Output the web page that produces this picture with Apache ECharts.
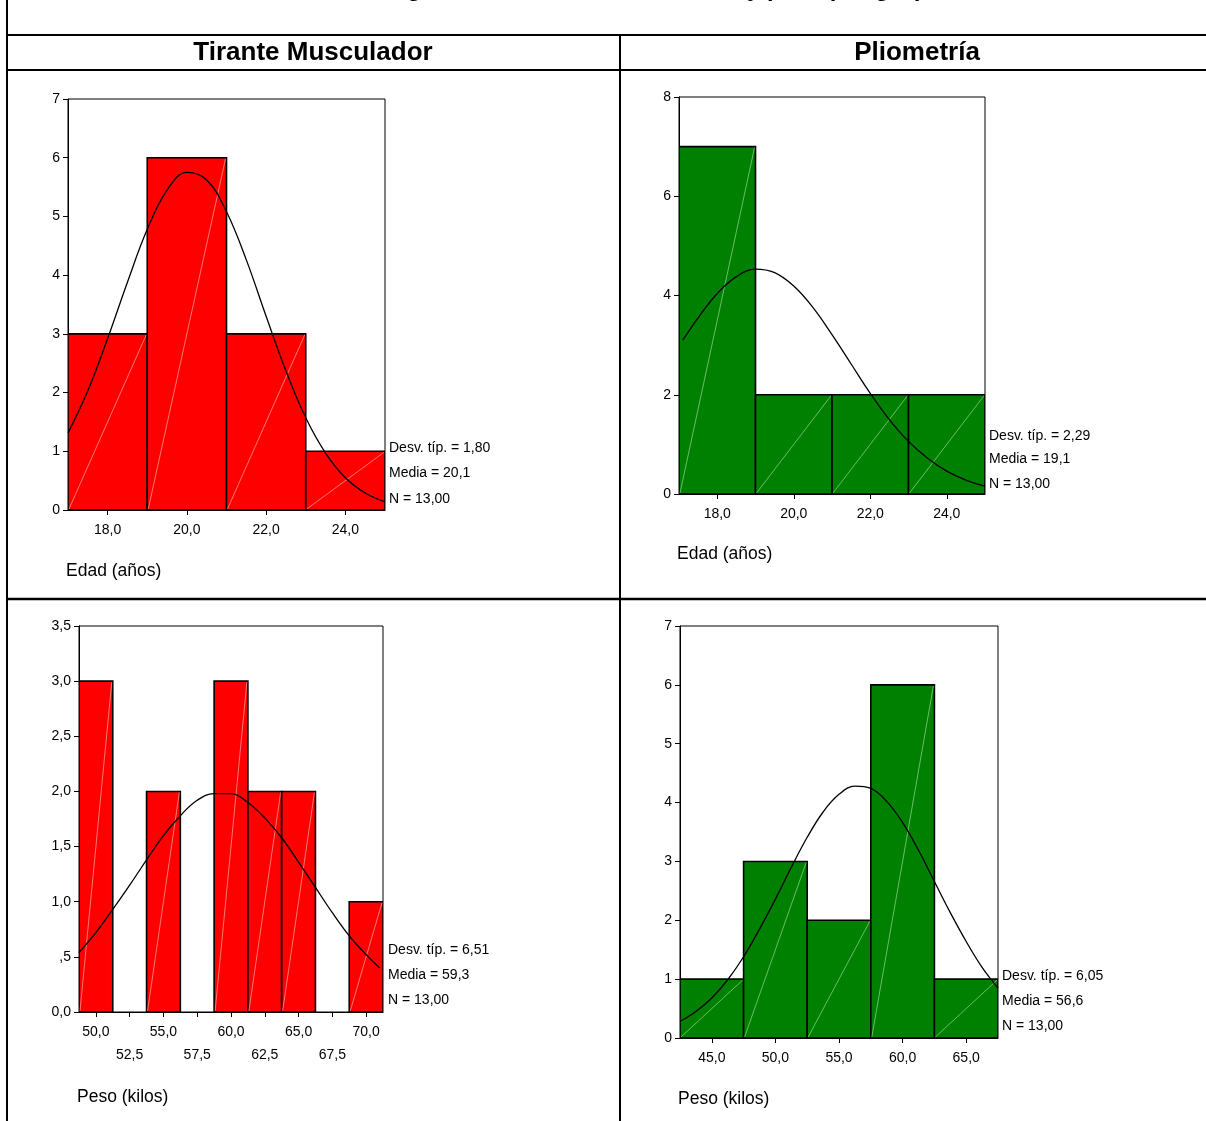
<!DOCTYPE html>
<html>
<head>
<meta charset="utf-8">
<script src="https://cdn.jsdelivr.net/npm/echarts@6/dist/echarts.min.js"></script>
<style>
html,body{margin:0;padding:0;background:#fff;}
#c{width:1206px;height:1121px;}
</style>
</head>
<body>
<div id="c"></div>
<script>
// ---------- DATA ----------
const pageTitle = 'Histogramas de las variables edad y peso por grupo';
const groupNames = ['Tirante Musculador', 'Pliometría'];
const varNames = ['Edad (años)', 'Edad (años)', 'Peso (kilos)', 'Peso (kilos)'];

// Tirante Musculador - Edad
const tmEdadLo = [17, 19, 21, 23];
const tmEdadHi = [19, 21, 23, 25];
const tmEdadN  = [3, 6, 3, 1];
const tmEdadCurveX = [17, 17.5, 18, 18.5, 19, 19.5, 20, 20.5, 21, 21.5, 22, 22.5, 23, 23.5, 24, 24.5, 25];
const tmEdadCurveY = [1.31, 2.03, 2.92, 3.88, 4.78, 5.45, 5.75, 5.62, 5.08, 4.26, 3.30, 2.37, 1.57, 0.97, 0.55, 0.29, 0.14];

// Pliometría - Edad
const plEdadLo = [17, 19, 21, 23];
const plEdadHi = [19, 21, 23, 25];
const plEdadN  = [7, 2, 2, 2];
const plEdadCurveX = [17.1, 17.5, 18, 18.5, 19, 19.5, 20, 20.5, 21, 21.5, 22, 22.5, 23, 23.5, 24, 24.5, 25];
const plEdadCurveY = [3.10, 3.55, 4.04, 4.38, 4.53, 4.46, 4.19, 3.76, 3.21, 2.62, 2.03, 1.50, 1.06, 0.72, 0.46, 0.28, 0.16];

// Tirante Musculador - Peso
const tmPesoLo = [48.75, 51.25, 53.75, 56.25, 58.75, 61.25, 63.75, 66.25, 68.75];
const tmPesoHi = [51.25, 53.75, 56.25, 58.75, 61.25, 63.75, 66.25, 68.75, 71.25];
const tmPesoN  = [3, 0, 2, 0, 3, 2, 2, 0, 1];
const tmPesoCurveX = [48.75, 50, 51.25, 52.5, 53.75, 55, 56.25, 57.5, 58.75, 60, 61.25, 62.5, 63.75, 65, 66.25, 67.5, 68.75, 70, 71];
const tmPesoCurveY = [0.54, 0.72, 0.93, 1.15, 1.38, 1.60, 1.78, 1.92, 1.98, 1.98, 1.90, 1.76, 1.58, 1.36, 1.13, 0.90, 0.69, 0.52, 0.40];

// Pliometría - Peso
const plPesoLo = [42.5, 47.5, 52.5, 57.5, 62.5];
const plPesoHi = [47.5, 52.5, 57.5, 62.5, 67.5];
const plPesoN  = [1, 3, 2, 6, 1];
const plPesoCurveX = [42.5, 43.75, 45, 46.25, 47.5, 48.75, 50, 51.25, 52.5, 53.75, 55, 56.25, 57.5, 58.75, 60, 61.25, 62.5, 63.75, 65, 66.25, 67.5];
const plPesoCurveY = [0.28, 0.45, 0.68, 0.99, 1.38, 1.85, 2.36, 2.90, 3.41, 3.84, 4.14, 4.28, 4.24, 4.02, 3.66, 3.19, 2.66, 2.13, 1.64, 1.20, 0.85];

// Axis ranges, ticks and labels
const xMin = [17, 17, 48.75, 42.5];
const xMax = [25, 25, 71.25, 67.5];
const xTicks1 = [18, 20, 22, 24];
const xLabels1 = ['18,0', '20,0', '22,0', '24,0'];
const xTicks2 = [18, 20, 22, 24];
const xLabels2 = ['18,0', '20,0', '22,0', '24,0'];
const xTicks3 = [50, 52.5, 55, 57.5, 60, 62.5, 65, 67.5, 70];
const xLabels3 = ['50,0', '\n52,5', '55,0', '\n57,5', '60,0', '\n62,5', '65,0', '\n67,5', '70,0'];
const xTicks4 = [45, 50, 55, 60, 65];
const xLabels4 = ['45,0', '50,0', '55,0', '60,0', '65,0'];

const yMax = [7, 8, 3.5, 7];
const yTicks1 = [0, 1, 2, 3, 4, 5, 6, 7];
const yLabels1 = ['0', '1', '2', '3', '4', '5', '6', '7'];
const yTicks2 = [0, 2, 4, 6, 8];
const yLabels2 = ['0', '2', '4', '6', '8'];
const yTicks3 = [0, 0.5, 1, 1.5, 2, 2.5, 3, 3.5];
const yLabels3 = ['0,0', ',5', '1,0', '1,5', '2,0', '2,5', '3,0', '3,5'];
const yTicks4 = [0, 1, 2, 3, 4, 5, 6, 7];
const yLabels4 = ['0', '1', '2', '3', '4', '5', '6', '7'];

const statSd    = ['1,80', '2,29', '6,51', '6,05'];
const statMedia = ['20,1', '19,1', '59,3', '56,6'];
const statN     = ['13,00', '13,00', '13,00', '13,00'];

// ---------- LAYOUT ----------
const FONT = '"Liberation Sans", Arial, sans-serif';
const RED = '#ff0000';
const GREEN = '#008000';
const grids = [
  {left: 68, top: 99, width: 317, height: 411},
  {left: 679, top: 97, width: 306, height: 397},
  {left: 79, top: 626, width: 304, height: 386},
  {left: 680, top: 626, width: 318, height: 412}
];
const barColors = [RED, GREEN, RED, GREEN];
const diagColors = ['rgba(255,200,200,0.85)', 'rgba(190,235,190,0.8)', 'rgba(255,200,200,0.85)', 'rgba(190,235,190,0.8)'];
const statPos = [
  {x: 389, y: [448, 473, 499]},
  {x: 989, y: [436, 459, 484]},
  {x: 388, y: [950, 975, 1000]},
  {x: 1002, y: [976, 1001, 1026]}
];
const namePos = [
  {x: 66, y: 571},
  {x: 677, y: 554},
  {x: 77, y: 1097},
  {x: 678, y: 1099}
];

const binsLo = [tmEdadLo, plEdadLo, tmPesoLo, plPesoLo];
const binsHi = [tmEdadHi, plEdadHi, tmPesoHi, plPesoHi];
const binsN = [tmEdadN, plEdadN, tmPesoN, plPesoN];
const curvesX = [tmEdadCurveX, plEdadCurveX, tmPesoCurveX, plPesoCurveX];
const curvesY = [tmEdadCurveY, plEdadCurveY, tmPesoCurveY, plPesoCurveY];
const xTicks = [xTicks1, xTicks2, xTicks3, xTicks4];
const xLabels = [xLabels1, xLabels2, xLabels3, xLabels4];
const yTicks = [yTicks1, yTicks2, yTicks3, yTicks4];
const yLabels = [yLabels1, yLabels2, yLabels3, yLabels4];

const chart = echarts.init(document.getElementById('c'), null, {renderer: 'canvas'});

const gridOpts = grids.map(g => Object.assign({show: true, borderColor: '#000', borderWidth: 1, backgroundColor: '#fff', containLabel: false}, g));

const xAxes = grids.map((g, i) => ({
  type: 'value', gridIndex: i, min: xMin[i], max: xMax[i],
  axisLine: {show: true, onZero: false, lineStyle: {color: '#000', width: 1}},
  axisTick: {show: true, length: 5, customValues: xTicks[i], lineStyle: {color: '#000'}},
  axisLabel: {
    customValues: xTicks[i], color: '#000', fontSize: 14, fontFamily: FONT, margin: 9, lineHeight: 23,
    hideOverlap: false,
    formatter: function (v) { const k = xTicks[i].indexOf(v); return k >= 0 ? xLabels[i][k] : ''; }
  },
  splitLine: {show: false}
}));

const yAxes = grids.map((g, i) => ({
  type: 'value', gridIndex: i, min: 0, max: yMax[i],
  axisLine: {show: true, lineStyle: {color: '#000', width: 1}},
  axisTick: {show: true, length: 5, customValues: yTicks[i], lineStyle: {color: '#000'}},
  axisLabel: {
    customValues: yTicks[i], color: '#000', fontSize: 14, fontFamily: FONT, margin: 8,
    formatter: function (v) { const k = yTicks[i].indexOf(v); return k >= 0 ? yLabels[i][k] : ''; }
  },
  splitLine: {show: false}
}));

const series = [];
grids.forEach((g, i) => {
  const data = binsLo[i].map((lo, k) => [lo, binsHi[i][k], binsN[i][k]]);
  series.push({
    type: 'custom', xAxisIndex: i, yAxisIndex: i, z: 2, clip: true,
    data: data,
    renderItem: function (params, api) {
      const lo = api.value(0), hi = api.value(1), n = api.value(2);
      if (!n) return null;
      const p0 = api.coord([lo, n]);
      const p1 = api.coord([hi, 0]);
      return {
        type: 'group',
        children: [
          {type: 'rect', shape: {x: p0[0], y: p0[1], width: p1[0] - p0[0], height: p1[1] - p0[1]},
           style: {fill: barColors[i], stroke: '#000', lineWidth: 1.6}},
          {type: 'line', shape: {x1: p0[0] + 1, y1: p1[1] - 1, x2: p1[0] - 1, y2: p0[1] + 1},
           style: {stroke: diagColors[i], lineWidth: 0.7}}
        ]
      };
    }
  });
  series.push({
    type: 'line', xAxisIndex: i, yAxisIndex: i, z: 3,
    data: curvesX[i].map((x, k) => [x, curvesY[i][k]]),
    smooth: 0.4, showSymbol: false, symbol: 'none',
    lineStyle: {color: '#000', width: 1.3},
    silent: true
  });
});

const graphics = [];
// table lines
const L = (x1, y1, x2, y2, w) => graphics.push({type: 'line', shape: {x1, y1, x2, y2}, style: {stroke: '#000', lineWidth: w}, z: 10});
L(7, 0, 7, 1121, 2);
L(7, 35, 1206, 35, 2.2);
L(7, 70, 1206, 70, 2.2);
L(620, 35, 620, 1121, 2);
L(7, 599, 1206, 599, 2.6);

// clipped page title (only descenders visible)
graphics.push({type: 'text', x: 645, y: -11, z: 10,
  style: {text: pageTitle, font: 'bold 24px ' + FONT, fill: '#000', align: 'center', verticalAlign: 'middle'}});
// group headers
graphics.push({type: 'text', x: 313, y: 53, z: 10,
  style: {text: groupNames[0], font: 'bold 26px ' + FONT, fill: '#000', align: 'center', verticalAlign: 'middle'}});
graphics.push({type: 'text', x: 917, y: 53, z: 10,
  style: {text: groupNames[1], font: 'bold 26px ' + FONT, fill: '#000', align: 'center', verticalAlign: 'middle'}});

grids.forEach((g, i) => {
  const lines = ['Desv. típ. = ' + statSd[i], 'Media = ' + statMedia[i], 'N = ' + statN[i]];
  lines.forEach((t, k) => graphics.push({type: 'text', x: statPos[i].x, y: statPos[i].y[k], z: 10,
    style: {text: t, font: '14px ' + FONT, fill: '#000', align: 'left', verticalAlign: 'middle'}}));
  graphics.push({type: 'text', x: namePos[i].x, y: namePos[i].y, z: 10,
    style: {text: varNames[i], font: '17.5px ' + FONT, fill: '#000', align: 'left', verticalAlign: 'middle'}});
});

chart.setOption({
  animation: false,
  backgroundColor: '#fff',
  grid: gridOpts,
  xAxis: xAxes,
  yAxis: yAxes,
  series: series,
  graphic: graphics
});
</script>
</body>
</html>
